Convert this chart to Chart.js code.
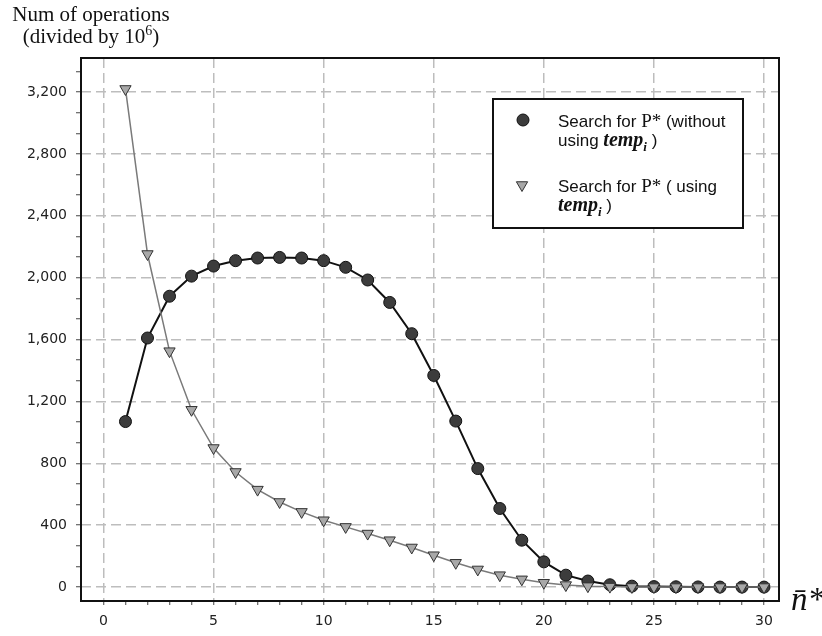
<!DOCTYPE html>
<html>
<head>
<meta charset="utf-8">
<script src="https://cdn.jsdelivr.net/npm/chart.js@4.4.1/dist/chart.umd.min.js"></script>
<style>
  html, body { margin: 0; padding: 0; background: #fff; }
  canvas { display: block; }
</style>
</head>
<body>
<canvas id="opsChart" width="822" height="636"></canvas>
<script>
// n-bar* values on the x axis
const nValues = [1, 2, 3, 4, 5, 6, 7, 8, 9, 10, 11, 12, 13, 14, 15,
                 16, 17, 18, 19, 20, 21, 22, 23, 24, 25, 26, 27, 28, 29, 30];
// Search for P* (without using temp_i), ops / 10^6
const withoutTemp = [1070, 1610, 1880, 2010, 2075, 2110, 2127, 2131, 2127, 2110,
                     2067, 1985, 1840, 1638, 1368, 1073, 766, 508, 303, 163,
                     77, 39, 15, 6, 3, 2, 1, 0, 0, 0];
// Search for P* (using temp_i)
const withTemp = [3220, 2153, 1525, 1146, 899, 744, 630, 550, 486, 432,
                  389, 346, 303, 256, 206, 157, 114, 77, 50, 28,
                  13, 6, 3, 1, 0, 0, 0, 0, 0, 0];

const xTickLabels = [0, 5, 10, 15, 20, 25, 30];
const yTickLabels = [0, 400, 800, 1200, 1600, 2000, 2400, 2800, 3200];

const toPoints = arr => arr.map((v, i) => ({ x: nValues[i], y: v }));

const tickFont = { family: '"DejaVu Sans", sans-serif', size: 14 };
const gridGrey = '#bdbdbd';

function drawRuns(ctx, x, y, runs) {
  runs.forEach(r => {
    ctx.font = r.font;
    ctx.fillText(r.text, x, y + (r.dy || 0));
    x += ctx.measureText(r.text).width;
  });
  return x;
}

function runsWidth(ctx, runs) {
  let w = 0;
  runs.forEach(r => { ctx.font = r.font; w += ctx.measureText(r.text).width; });
  return w;
}

const SANS = '17px "Liberation Sans", Arial, sans-serif';
const SERIF = '19px "Liberation Serif", "Times New Roman", serif';
const TEMP = 'bold italic 20px "Liberation Serif", serif';
const SUB = 'bold italic 13px "Liberation Serif", serif';

const notesPlugin = {
  id: 'notes',
  afterDraw(chart) {
    const { ctx, chartArea: a } = chart;
    ctx.save();

    // frame round the plot
    ctx.strokeStyle = '#111';
    ctx.lineWidth = 2;
    ctx.strokeRect(a.left, a.top, a.right - a.left, a.bottom - a.top);

    // y axis title, top left
    ctx.fillStyle = '#111';
    ctx.textBaseline = 'alphabetic';
    ctx.textAlign = 'center';
    ctx.font = '21px "Liberation Serif", serif';
    ctx.fillText('Num of operations', 91, 21);
    ctx.textAlign = 'left';
    const line2 = [
      { text: '(divided by 10', font: '21px "Liberation Serif", serif' },
      { text: '6', font: '14px "Liberation Serif", serif', dy: -8 },
      { text: ')', font: '21px "Liberation Serif", serif' }
    ];
    drawRuns(ctx, 91 - runsWidth(ctx, line2) / 2, 43, line2);

    // x axis title
    ctx.font = 'italic 33px "Liberation Serif", serif';
    ctx.fillText('n\u0304*', 791, 610);

    // legend box
    const lx = a.left + 412, ly = a.top + 41, lw = 250, lh = 129;
    ctx.fillStyle = '#fff';
    ctx.fillRect(lx, ly, lw, lh);
    ctx.strokeStyle = '#111';
    ctx.lineWidth = 2;
    ctx.strokeRect(lx, ly, lw, lh);

    // legend markers
    ctx.lineWidth = 1;
    ctx.fillStyle = '#3c3c3c';
    ctx.strokeStyle = '#111';
    ctx.beginPath();
    ctx.arc(lx + 30, ly + 21, 6, 0, Math.PI * 2);
    ctx.fill(); ctx.stroke();

    const tx = lx + 29, ty = ly + 86, r = 6.5;
    ctx.fillStyle = '#a8a8a8';
    ctx.strokeStyle = '#333';
    ctx.beginPath();
    ctx.moveTo(tx, ty + r);
    ctx.lineTo(tx - r * 0.866, ty - r / 2);
    ctx.lineTo(tx + r * 0.866, ty - r / 2);
    ctx.closePath();
    ctx.fill(); ctx.stroke();

    // legend text
    ctx.fillStyle = '#111';
    const textX = lx + 65;
    drawRuns(ctx, textX, ly + 28, [
      { text: 'Search for ', font: SANS },
      { text: 'P*', font: SERIF },
      { text: ' (without', font: SANS }
    ]);
    drawRuns(ctx, textX, ly + 47, [
      { text: 'using ', font: SANS },
      { text: 'temp', font: TEMP },
      { text: 'i', font: SUB, dy: 5 },
      { text: ' )', font: SANS }
    ]);
    drawRuns(ctx, textX, ly + 93, [
      { text: 'Search for ', font: SANS },
      { text: 'P*', font: SERIF },
      { text: ' ( using', font: SANS }
    ]);
    drawRuns(ctx, textX, ly + 112, [
      { text: 'temp', font: TEMP },
      { text: 'i', font: SUB, dy: 5 },
      { text: ' )', font: SANS }
    ]);

    ctx.restore();
  }
};

new Chart(document.getElementById('opsChart'), {
  type: 'line',
  data: {
    datasets: [
      {
        label: 'Search for P* (without using temp_i )',
        data: toPoints(withoutTemp),
        borderColor: '#111',
        borderWidth: 2,
        pointStyle: 'circle',
        pointRadius: 6,
        pointBackgroundColor: '#3c3c3c',
        pointBorderColor: '#111',
        pointBorderWidth: 1,
        tension: 0,
        order: 1
      },
      {
        label: 'Search for P* ( using temp_i )',
        data: toPoints(withTemp),
        borderColor: '#7a7a7a',
        borderWidth: 1.5,
        pointStyle: 'triangle',
        pointRotation: 180,
        pointRadius: 6.5,
        pointBackgroundColor: '#a8a8a8',
        pointBorderColor: '#333',
        pointBorderWidth: 1,
        tension: 0,
        order: 0
      }
    ]
  },
  options: {
    responsive: false,
    animation: false,
    devicePixelRatio: 1,
    layout: { padding: { top: 58, right: 43, left: 0, bottom: 0 } },
    plugins: { legend: { display: false }, tooltip: { enabled: false } },
    scales: {
      x: {
        type: 'linear',
        min: -1.02,
        max: 30.68,
        afterBuildTicks: s => { s.ticks = [0].concat(nValues).map(v => ({ value: v })); },
        afterFit: s => { s.height = 35; },
        ticks: {
          autoSkip: false,
          maxRotation: 0,
          padding: 8,
          color: '#222',
          font: tickFont,
          callback: v => xTickLabels.includes(v) ? String(v) : ''
        },
        grid: {
          color: c => (c.tick && xTickLabels.includes(c.tick.value)) ? gridGrey : 'rgba(0,0,0,0)',
          lineWidth: 1.5,
          tickColor: '#444',
          tickLength: 4,
          tickWidth: 1
        },
        border: { display: false, dash: [10, 5] }
      },
      y: {
        type: 'linear',
        min: -90,
        max: 3420,
        afterBuildTicks: s => {
          const t = [];
          for (let i = 0; i * 400 / 3 <= 3420; i++) t.push({ value: i * 400 / 3 });
          s.ticks = t;
        },
        afterFit: s => { s.width = 81; },
        ticks: {
          autoSkip: false,
          padding: 9,
          color: '#222',
          font: tickFont,
          callback: v => yTickLabels.includes(v) ? v.toLocaleString('en-US') : ''
        },
        grid: {
          color: c => (c.tick && yTickLabels.includes(c.tick.value)) ? gridGrey : 'rgba(0,0,0,0)',
          lineWidth: 1.5,
          tickColor: '#444',
          tickLength: 5,
          tickWidth: 1
        },
        border: { display: false, dash: [10, 5] }
      }
    }
  },
  plugins: [notesPlugin]
});
</script>
</body>
</html>
